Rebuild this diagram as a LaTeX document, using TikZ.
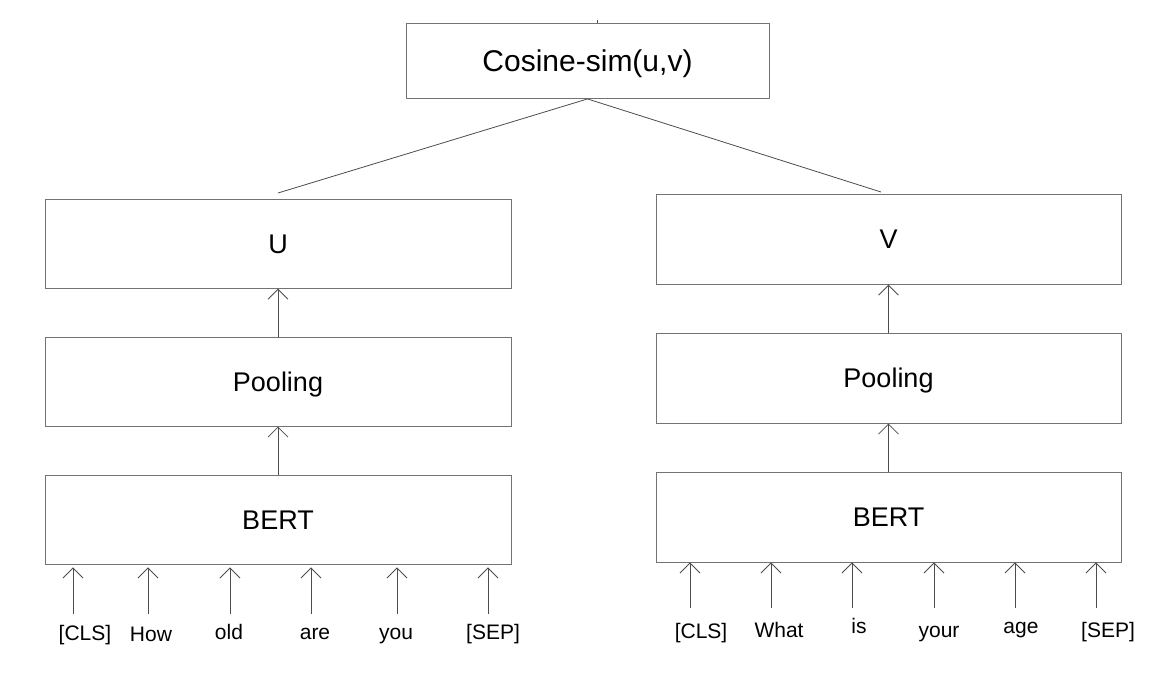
\documentclass[tikz,border=0pt]{standalone}
\usepackage{fontspec}
\setmainfont{Liberation Sans}
\usepackage{tikz}
\usetikzlibrary{positioning, arrows.meta}
\tikzset{
    >={Straight Barb[length=10pt,width=20pt]}, % open arrow heads
    x=1pt, y=-1pt, % coordinates are pixels of the page, counted from the top
    node distance=48pt, % gap between the stacked boxes
    every node/.style={inner sep=0pt}, % text sits right on its anchor
    }

\begin{document}
\begin{tikzpicture}[box/.style={rectangle, draw=black!55, line width=0.9pt, minimum width=466pt, minimum height=89pt, font=\fontsize{27}{30}\selectfont, text height=19pt, text depth=0pt},
word/.style={font=\fontsize{21}{24}\selectfont, anchor=base},
link/.style={draw=black!70, line width=0.8pt}]
\useasboundingbox (0,0) rectangle (1174,692);

\node[box, minimum width=363pt, minimum height=75pt, font=\fontsize{30}{32}\selectfont, text height=21pt] (0) at (587.5,61) {Cosine-sim(u,v)};
\node[box] (3) at (278,519.5) {BERT};
\node[box, above=of 3] (2) {Pooling};
\node[box, above=of 2] (1) {U};
\node[box, minimum width=465pt, minimum height=90pt] (6) at (888.5,517) {BERT};
\node[box, minimum width=465pt, minimum height=90pt, above=of 6] (5) {Pooling};
\node[box, minimum width=465pt, minimum height=90pt, above=of 5] (4) {V};

\coordinate (tk) at (597,20.5);
\coordinate (uL) at (278,193);
\coordinate (vR) at (881,192);
\draw[link] (tk) -- (tk |- 0.north);
\draw[link] (0.south) -- (uL);
\draw[link] (0.south) -- (vR);

\draw[link, ->] (3) -- (2);
\draw[link, ->] (2) -- (1);
\draw[link, ->] (6) -- (5);
\draw[link, ->] (5) -- (4);

\foreach \ax/\lx/\ly/\w [count=\i] in {73/85/640/{[CLS]}, 148/151/641/How, 230/229/639/old, 311/315/639/are, 397/396/639/you, 488/493/639/{[SEP]}}{
  \node[word] (w\i) at (\lx,\ly) {\w};
  \coordinate (a\i) at (\ax,614);
  \draw[link, ->, shorten >=3pt] (a\i) -- (a\i |- 3.south);
}
\foreach \ax/\lx/\ly/\w [count=\i from 7] in {690/701/638/{[CLS]}, 771/779/637/What, 852/859/633/is, 934/939/637/your, 1015/1021/633/age, 1096/1108/637/{[SEP]}}{
  \node[word] (w\i) at (\lx,\ly) {\w};
  \coordinate (a\i) at (\ax,608);
  \draw[link, ->] (a\i) -- (a\i |- 6.south);
}

\end{tikzpicture}
\end{document}
